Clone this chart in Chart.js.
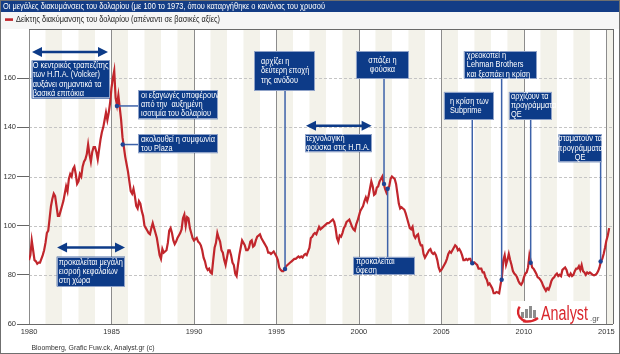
<!DOCTYPE html>
<html>
<head>
<meta charset="utf-8">
<script src="https://cdn.jsdelivr.net/npm/chart.js@4.4.1/dist/chart.umd.min.js"></script>
<style>
  html, body { margin: 0; padding: 0; background: #fff; }
  #c { display: block; }
</style>
</head>
<body>
<canvas id="c" width="620" height="354"></canvas>
<script>
// dollar index, monthly, Jan 1980 .. Mar 2015
const dxy1980s = [
  86, 88, 94, 90, 86, 85.5, 84.5, 85, 85, 86.5, 88, 90,
  93, 97, 98, 103, 108, 111, 113, 112, 108, 104, 104, 106,
  108, 110, 113, 116, 114, 119, 121, 120, 123, 124, 121, 117,
  118, 121, 120, 124, 126, 127, 129, 133, 129, 126, 130, 132,
  132, 130, 127, 131, 135, 138, 140, 143, 146, 143, 146, 150,
  156, 160, 163, 152, 149, 153, 148, 143, 136, 132, 128, 125,
  122, 118, 114, 113, 115, 112, 108, 107, 110, 109, 106, 104,
  100, 99, 98, 97, 96.5, 99, 101, 99, 97, 95, 91.5, 88,
  86.5, 90.5, 89, 89.5, 90, 93, 98, 99, 97, 94, 92.5, 93.5,
  95, 96, 97, 98.5, 103, 104.5, 100, 103.5, 103, 99, 97, 95
];
const dxy1990s = [
  94, 94.5, 95, 93.5, 93, 92, 90, 87, 85.5, 83, 82, 82.5,
  81, 80.5, 86, 91, 93, 97, 95, 93.5, 90, 89, 86, 84,
  87, 90, 90, 88, 85, 84, 80.5, 79.5, 84, 88, 91, 94,
  93, 92, 90, 90, 91, 93.5, 94, 91.5, 92, 94, 95.5, 96,
  96.5, 95, 94, 93, 92, 91, 89, 89, 88.5, 89, 89.5, 88.5,
  87.5, 86, 83, 82, 81.5, 81.5, 82.5, 83.5, 84, 84.5, 85, 85.5,
  86, 86.5, 86.5, 87, 87.5, 87, 87.5, 87, 88, 88.5, 88, 89.5,
  91, 95, 95.5, 96.5, 97, 96.5, 98, 99.5, 98.5, 99, 99.5, 100,
  100.5, 101, 101, 101.5, 102, 102.5, 101.5, 99, 95, 93.5, 96, 95.5,
  97, 99, 100, 101.5, 102, 102.5, 101, 99.5, 98.5, 98, 100.5, 102
];
const dxy2000s = [
  104, 106, 107, 108, 110, 111.5, 110, 112, 115, 118, 116, 112.5,
  113, 115.5, 116, 118, 119, 120, 117, 115, 113.5, 115, 116, 119,
  120, 119.5, 119, 117, 113, 109, 107, 107.5, 107, 106.5, 105, 103,
  101, 99, 98.5, 99.5, 96, 95, 96, 96.5, 93.5, 92, 92, 88.5,
  87, 88, 89, 90, 90.5, 89, 88.5, 89, 88, 86, 83, 81.5,
  82, 83, 84, 85, 86.5, 88.5, 89.5, 89, 90, 91, 92, 91.5,
  90, 90.5, 89.5, 88, 86, 86, 86.5, 86, 86.5, 86.5, 85, 84.5,
  85, 84.5, 84, 82.5, 82.5, 82.5, 81, 81, 79, 78, 76, 76.5,
  75.5, 74.5, 72.5, 72.5, 73, 72.8, 72.5, 76, 79, 86, 88, 84,
  86, 88.5, 86, 84, 81.5, 80.5, 80, 79, 77.5, 76.5, 76, 77
];
const dxy2010s = [
  79, 80.5, 81, 83, 88, 85.5, 83, 82.5, 81.5, 80.5, 79, 78.7,
  78, 77, 75.5, 74.5, 73.5, 74.5, 74, 75.5, 77.5, 78.5, 79, 80,
  80.5, 79.5, 80, 79.5, 82, 82.5, 83, 82, 80, 79.5, 80.5, 79.5,
  80, 81.5, 82.5, 82.5, 83.5, 82, 84, 81.5, 81, 80, 81, 80.5,
  81, 80.5, 80, 79.8, 80, 80.5, 81.5, 83, 85.5, 86.5, 88.5, 91,
  94, 96, 99
];
const firstYear = 1980;
const yearTicks = [1980, 1985, 1990, 1995, 2000, 2005, 2010, 2015];
const valueTicks = [60, 80, 100, 120, 140, 160];

const titleText = 'Οι μεγάλες διακυμάνσεις του δολαρίου (με 100 το 1973, όπου καταργήθηκε ο κανόνας του χρυσού';
const seriesName = 'Δείκτης διακύμανσης του δολαρίου (απέναντι σε βασικές αξίες)';
const sourceText = 'Bloomberg, Grafic Fuw.ck, Analyst.gr (c)';

// annotation boxes, in chart units (year / index value)
const notes = [
  { x0: 1980.16, x1: 1984.91, top: 167.2, bot: 151.7, pad: 1,
    lines: ['Ο κεντρικός τραπεζίτης', 'των Η.Π.Α. (Volcker)', 'αυξάνει σημαντικά τα', 'βασικά επιτόκια'] },
  { x0: 1986.61, x1: 1991.45, top: 155.1, bot: 143.3, pad: 3, link: 'left', lx: 1985.33, ly: 148.7,
    lines: ['οι εξαγωγές υποφέρουν', 'από την  αυξημένη', 'ισοτιμία του δολαρίου'] },
  { x0: 1986.61, x1: 1991.45, top: 137.2, bot: 129.5, pad: 3, link: 'left', lx: 1985.68, ly: 133,
    lines: ['ακολουθεί η συμφωνία', 'του Plaza'] },
  { x0: 1993.64, x1: 1997.33, top: 171.0, bot: 154.8, pad: 7, link: 'down', lx: 1995.52, ly: 82.4,
    lines: ['αρχίζει η', 'δεύτερη εποχή', 'της ανόδου'] },
  { x0: 1996.73, x1: 2000.77, top: 137.2, bot: 129.9, pad: 1,
    lines: ['τεχνολογική', 'φούσκα στις Η.Π.Α.'] },
  { x0: 1999.82, x1: 2003.03, top: 171.0, bot: 159.8, align: 'center', link: 'down', lx: 2001.52, ly: 117,
    lines: ['σπάζει η', 'φούσκα'] },
  { x0: 1999.64, x1: 2003.39, top: 87.3, bot: 80.0, pad: 3, link: 'up', lx: 2001.74, ly: 115,
    lines: ['προκαλείται', 'ύφεση'] },
  { x0: 2005.15, x1: 2008.18, top: 154.4, bot: 143.2, pad: 6, link: 'down', lx: 2006.87, ly: 84.7,
    lines: ['η κρίση των', 'Subprime'] },
  { x0: 2006.36, x1: 2010.79, top: 171.0, bot: 159.8, pad: 3, link: 'down', lx: 2008.65, ly: 78,
    lines: ['χρεοκοπεί η', 'Lehman Brothers', 'και ξεσπάει η κρίση'] },
  { x0: 2009.09, x1: 2011.70, top: 154.4, bot: 143.2, pad: 2, link: 'down', lx: 2010.41, ly: 84.9,
    lines: ['αρχίζουν τα', 'προγράμματα', 'QE'] },
  { x0: 2012.10, x1: 2014.71, top: 137.2, bot: 125.8, align: 'center', link: 'down', lx: 2014.65, ly: 85.4,
    lines: ['σταματούν τα', 'προγράμματα', 'QE'] },
  { x0: 1981.68, x1: 1985.82, top: 87.4, bot: 75.3, pad: 2,
    lines: ['προκαλείται μεγάλη', 'εισροή κεφαλαίων', 'στη χώρα'] }
];
const arrows = [
  { from: 1980.18, to: 1984.79, at: 170.6 },
  { from: 1996.79, to: 2000.77, at: 140.6 },
  { from: 1981.70, to: 1985.82, at: 91.1 }
];

const monthly = [...dxy1980s, ...dxy1990s, ...dxy2000s, ...dxy2010s];
const points = monthly.map((v, i) => ({ x: firstYear + i / 12, y: v }));

const NAVY = '#0d3b88', LINK = '#3d62a9', RED = '#c1262c';

function hasFont(name) {
  const c = document.createElement('canvas').getContext('2d');
  const s = 'abcdefghijklmΑΒΓδεζηθ0123';
  c.font = '40px monospace'; const a = c.measureText(s).width;
  c.font = '40px "' + name + '", monospace'; const b = c.measureText(s).width;
  return a !== b;
}
const narrow = hasFont('Liberation Sans Narrow');
const FAM = narrow ? '"Liberation Sans Narrow", "Liberation Sans", sans-serif' : '"Liberation Sans", Arial, sans-serif';
const SX = narrow ? 1 : 0.84;

function put(ctx, s, x, y, size, color, align, fitW) {
  ctx.save();
  ctx.font = size + 'px ' + FAM;
  ctx.fillStyle = color;
  ctx.textBaseline = 'middle';
  ctx.textAlign = align || 'left';
  let sx = SX;
  if (fitW) sx = fitW / ctx.measureText(s).width;
  ctx.translate(x, y); ctx.scale(sx, 1);
  ctx.fillText(s, 0, 0);
  ctx.restore();
}

function dArrow(ctx, xa, xb, yy) {
  const hl = 10, hh = 5;
  ctx.save();
  ctx.strokeStyle = NAVY; ctx.fillStyle = NAVY; ctx.lineWidth = 2.5;
  ctx.beginPath(); ctx.moveTo(xa + hl - 1, yy); ctx.lineTo(xb - hl + 1, yy); ctx.stroke();
  ctx.beginPath(); ctx.moveTo(xa, yy); ctx.lineTo(xa + hl, yy - hh); ctx.lineTo(xa + hl, yy + hh); ctx.closePath(); ctx.fill();
  ctx.beginPath(); ctx.moveTo(xb, yy); ctx.lineTo(xb - hl, yy - hh); ctx.lineTo(xb - hl, yy + hh); ctx.closePath(); ctx.fill();
  ctx.restore();
}

const backdrop = {
  id: 'backdrop',
  beforeDraw(chart) {
    const { ctx, width, height } = chart;
    ctx.save();
    ctx.fillStyle = '#fff'; ctx.fillRect(0, 0, width, height);
    ctx.fillStyle = '#f6f6f6'; ctx.fillRect(0, 12, width, 17);
    ctx.fillStyle = '#143d86'; ctx.fillRect(0, 0, width, 12);
    ctx.restore();
    put(ctx, titleText, 3, 6.3, 9.5, '#fff', 'left', 322);
    ctx.save(); ctx.fillStyle = RED; ctx.fillRect(5, 18.3, 8, 2.6); ctx.restore();
    put(ctx, seriesName, 16, 19.5, 9, '#222', 'left', 204);
  },
  beforeDatasetsDraw(chart) {
    const { ctx, chartArea: a, scales: { x, y } } = chart;
    ctx.save();
    ctx.beginPath(); ctx.rect(a.left, a.top, a.right - a.left, a.bottom - a.top); ctx.clip();
    ctx.fillStyle = '#f3f2ea';
    for (let yr = firstYear + 1; yr < 2016; yr += 2) {
      const xa = x.getPixelForValue(yr), xb = x.getPixelForValue(yr + 1);
      ctx.fillRect(xa, a.top, xb - xa, a.bottom - a.top);
    }
    ctx.strokeStyle = '#c4c4c4'; ctx.lineWidth = 1; ctx.setLineDash([3, 2]);
    valueTicks.forEach(v => {
      if (v === valueTicks[0]) return;
      const py = Math.round(y.getPixelForValue(v)) + 0.5;
      ctx.beginPath(); ctx.moveTo(a.left, py); ctx.lineTo(a.right, py); ctx.stroke();
    });
    ctx.setLineDash([]);
    ctx.strokeStyle = '#8c8c8c';
    yearTicks.forEach(v => {
      const px = Math.round(x.getPixelForValue(v)) + 0.5;
      ctx.beginPath(); ctx.moveTo(px, a.top); ctx.lineTo(px, a.bottom); ctx.stroke();
    });
    ctx.restore();
  },
  afterDatasetsDraw(chart) {
    const { ctx, chartArea: a, scales: { x, y } } = chart;
    ctx.save();
    // plot frame
    ctx.strokeStyle = '#6a6a6a'; ctx.lineWidth = 1;
    ctx.beginPath();
    ctx.moveTo(a.left, a.top + 0.5); ctx.lineTo(a.right, a.top + 0.5);
    ctx.moveTo(a.left, a.bottom + 0.5); ctx.lineTo(a.right, a.bottom + 0.5);
    ctx.moveTo(a.right + 0.5, a.top); ctx.lineTo(a.right + 0.5, a.bottom);
    ctx.stroke();

    arrows.forEach(r => dArrow(ctx, x.getPixelForValue(r.from), x.getPixelForValue(r.to), y.getPixelForValue(r.at)));

    notes.forEach(n => {
      const bx = x.getPixelForValue(n.x0), bw = x.getPixelForValue(n.x1) - bx;
      const by = y.getPixelForValue(n.top), bh = y.getPixelForValue(n.bot) - by;
      if (n.link) {
        const px = x.getPixelForValue(n.lx), py = y.getPixelForValue(n.ly);
        ctx.strokeStyle = LINK; ctx.lineWidth = 1.5;
        ctx.beginPath();
        if (n.link === 'left') { ctx.moveTo(bx, py); ctx.lineTo(px, py); }
        else if (n.link === 'down') { ctx.moveTo(px, by + bh); ctx.lineTo(px, py); }
        else { ctx.moveTo(px, by); ctx.lineTo(px, py); }
        ctx.stroke();
        ctx.fillStyle = '#1d4494';
        ctx.beginPath(); ctx.arc(px, py, 2.2, 0, Math.PI * 2); ctx.fill();
      }
      ctx.fillStyle = NAVY; ctx.fillRect(bx, by, bw, bh);
      ctx.strokeStyle = '#8fa2c8'; ctx.lineWidth = 1;
      ctx.strokeRect(Math.round(bx) + 0.5, Math.round(by) + 0.5, Math.round(bw) - 1, Math.round(bh) - 1);
      const lh = 9.2, cy = by + bh / 2 - (n.lines.length - 1) * lh / 2;
      n.lines.forEach((t, i) => {
        if (n.align === 'center') put(ctx, t, bx + bw / 2, cy + i * lh, 8.8, '#fff', 'center');
        else put(ctx, t, bx + n.pad, cy + i * lh, 8.8, '#fff', 'left');
      });
    });

    // Analyst.gr logo
    const lx = a.right - 102, ly = a.bottom - 23;
    ctx.fillStyle = '#fff'; ctx.fillRect(lx, ly, 94, 23);
    ctx.fillStyle = '#8d8d8d';
    [[10, 6], [14, 9], [18, 12], [22, 8]].forEach(([dx, h]) => ctx.fillRect(lx + dx, ly + 17 - h, 3, h));
    ctx.strokeStyle = '#d9262c'; ctx.lineWidth = 2.4;
    ctx.beginPath(); ctx.arc(lx + 16, ly + 11, 9, 0.55 * Math.PI, 1.2 * Math.PI); ctx.stroke();
    ctx.beginPath(); ctx.moveTo(lx + 12, ly + 20); ctx.quadraticCurveTo(lx + 20, ly + 22, lx + 27, ly + 17); ctx.stroke();
    ctx.restore();
    ctx.save();
    ctx.font = '20px ' + FAM; ctx.fillStyle = '#d9262c'; ctx.textBaseline = 'alphabetic';
    const w = ctx.measureText('Analyst').width;
    ctx.translate(lx + 30, ly + 19); ctx.scale(47 / w, 1); ctx.fillText('Analyst', 0, 0);
    ctx.restore();
    ctx.save();
    ctx.font = '8px ' + FAM; ctx.fillStyle = '#555'; ctx.textBaseline = 'alphabetic';
    ctx.fillText('.gr', lx + 79, ly + 20);
    ctx.restore();
  },
  afterDraw(chart) {
    const { ctx, width, height } = chart;
    put(ctx, sourceText, 31.5, 347.5, 7.5, '#333', 'left', 123);
    ctx.save();
    ctx.strokeStyle = '#6f6f6f'; ctx.lineWidth = 1;
    ctx.strokeRect(0.5, 0.5, width - 1, height - 1);
    ctx.restore();
  }
};

const tickFont = { family: FAM, size: narrow ? 8.5 : 7.5 };

new Chart(document.getElementById('c'), {
  type: 'line',
  data: {
    datasets: [{
      label: seriesName,
      data: points,
      borderColor: RED,
      borderWidth: 2.2,
      pointRadius: 0,
      tension: 0,
      fill: false
    }]
  },
  options: {
    responsive: false,
    animation: false,
    devicePixelRatio: 1,
    layout: { padding: { top: 29, right: 7, bottom: 0, left: 0 }, autoPadding: false },
    plugins: { legend: { display: false }, tooltip: { enabled: false } },
    scales: {
      x: {
        type: 'linear', min: 1980, max: 2015.4,
        afterBuildTicks: s => { s.ticks = yearTicks.map(v => ({ value: v })); },
        afterFit: s => { s.height = 30; },
        ticks: { font: tickFont, color: '#333', padding: 3, maxRotation: 0, callback: v => String(v) },
        grid: { display: true, drawOnChartArea: false, drawTicks: false, tickLength: 0, color: 'transparent' },
        border: { display: false }
      },
      y: {
        min: 60, max: 180,
        afterBuildTicks: s => { s.ticks = valueTicks.map(v => ({ value: v })); },
        afterFit: s => { s.width = 29; },
        ticks: { font: tickFont, color: '#333', padding: 1, callback: v => String(v) },
        grid: { drawOnChartArea: false, drawTicks: true, tickLength: 12, color: '#666' },
        border: { display: false }
      }
    }
  },
  plugins: [backdrop]
});
</script>
</body>
</html>
